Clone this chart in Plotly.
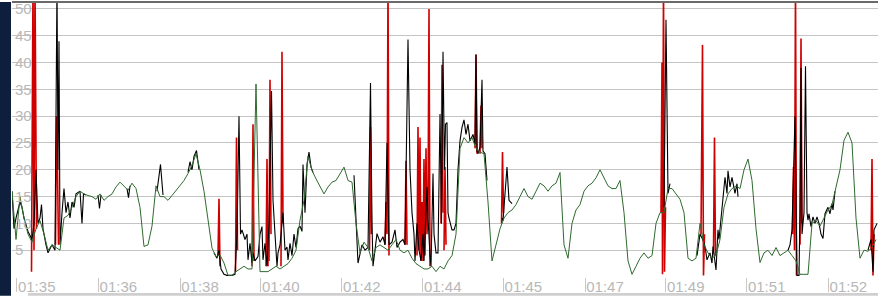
import plotly.graph_objects as go

# ---- data -------------------------------------------------------------
# green series: one reading every 4 time units (t = 0, 4, 8, ...)
green_vals = [
    16, 7, 15, 11, 8, 6.5, 9, 10.5, 8, 5, 6, 5.5, 5, 11, 11.5, 13, 15, 16, 15.5, 15.2,
    15, 14.5, 15.5, 14.3, 15, 15.5, 16.8, 17.7, 17, 16.2, 17.5, 16.5, 13, 5.7, 6, 9.5, 17, 15, 15, 14.3,
    15.2, 16.2, 17.1, 18, 19.3, 20.8, 23, 20, 16, 11, 5.4, 3.8, 4.1, 2.6, 0.3, 0.3, 1, 1.5, 2, 1.5,
    1.5, 36, 1, 1, 1, 1.5, 2, 1.5, 2, 2.5, 3.5, 5, 10.6, 14.3, 22.5, 19.9, 18.3, 16.8, 15.5, 16.8,
    17.7, 18, 19.3, 20.5, 18, 17.7, 10, 4.5, 6.5, 5.5, 3, 5.5, 6, 5.5, 5, 6, 7, 5, 4.5, 5,
    3.5, 2.5, 2, 1.5, 1.5, 2, 1, 2, 1.5, 3, 4, 8, 24, 26, 25, 26, 24, 23.3, 23, 14,
    3, 6, 9, 11, 12, 12.5, 13.5, 15, 16.5, 15, 14.5, 16, 17.5, 17, 16, 17, 17.5, 19.5, 6, 3.5,
    10, 12.5, 13.5, 16, 17, 17.5, 18.5, 20, 18.5, 17, 16.5, 16.5, 18, 12, 3, 0.5, 2, 3.5, 4.5, 3.5,
    4, 10, 12, 12, 16.5, 16.5, 15.5, 14.5, 12, 3.5, 3, 3.5, 10, 6, 4.5, 3.5, 4, 7, 13, 15.5,
    16.5, 17, 16.5, 20, 22, 18, 9, 2.7, 4.5, 5, 4, 5.5, 4, 4.5, 5, 4, 3, 0.5, 0.5, 0.5,
    10, 10.5, 9.5, 11, 12.5, 13.5, 16.5, 20, 25.5, 27, 25, 11, 3.5, 5, 4.8, 5.5, 7,
]
green_t = [4 * k for k in range(len(green_vals))]

# black series (time, value); None breaks where it runs under the green line
black_t = [
    0, 2, 4, 6, 8, 10, 12, 16, 20, 22, 24, 26, 28, 29.5, 31, 34, 36, 40, 43, 45, 46, 47, 48, 50, 52, 54,
    56, 58, 60, 62, 64, 68, 70, 71.5, 74, None,
    86, 87.5, 89, None,
    115, 116.5, 118, None,
    145, 148.5, 151, None,
    176, 178, 180, 182, 184.5, 187, None,
    202, 205, 207, 209, 212, 215, 220, 223, 225, 227, 228.5, 230, 233, 235, 236, 238, 240, 241, 243, 246,
    248, 250, 251, 253, 255, 257, 259.5, 261, 263, 265, 266, 268, 271, 273, 275, 276, 278, 280, 282, 284,
    286, 288, 290, 291, 293, 295, 297, 299, 301, None,
    342, 344, 346, 350, 353, 356, 358.5, 360, 361, 365, 368, 371, 373, 375, 377, 380, 383, 385, 388, 391,
    393, 396, 398, 400, 402, 403, 405, 407, 409, 411, 412, 415, 416, 418, 419, 421, 422, 424, 426, 428,
    429.5, 431, 432.5, 433.5, 435, 436, 437, 440, 442, 444, 446, 448, 450, 452, 454, 456, 458, 461, 463, 464,
    465, 466, 468, 470, 471, 473, 475, None,
    490, 491, 493, 495, 497, 500, None,
    652, 654, 656, 658, None,
    685, 688, 691, 693, 695, 698, 700, 701, 704, 706, 707, 709, 711, 713, 715, 716, 718, 720, 723, 725,
    726, None,
    776, 778, 780, 781.5, 783, 785, 787, 788, 789, 790, 792, 793.5, 795, 796, 797, 799, 801, 803, 805, 807,
    809, 811, 813, 816, 818, 820, 821, 823, None,
    856, 859, 861, 862, 865,
]
black_vals = [
    16, 9, 11, 12.5, 14, 13, 11, 8.5, 7, 10, 20, 10, 11, 13.5, 9, 6, 4.5, 6, 5, 55, 20, 44, 6, 12, 16.5, 12,
    14, 11, 14, 13, 15.5, 16, 10, 15.5, 15.3, None,
    15.3, 12.8, 15.3, None,
    16.5, 14.8, 17, None,
    16, 21, 15.3, None,
    19.5, 21.5, 20, 22.5, 23.6, 20, None,
    4.5, 3.5, 5, 1.5, 0.5, 0.3, 0.3, 0.5, 8, 30, 8, 8.8, 7, 8, 3.2, 6.3, 2.6, 4.5, 3, 3.8,
    8, 9.4, 3.2, 6.3, 2, 10, 34.7, 14.3, 8, 2, 4.5, 6, 12, 5, 5.6, 3.2, 6.3, 4, 8, 5.5,
    9, 9.5, 8.5, 21, 12, 21, 23.3, 20.5, 19.5, None,
    19, 12, 2.6, 6, 5, 5.5, 36.2, 10, 2, 8.1, 6.5, 7.5, 6, 25, 6, 6.5, 8.8, 5.5, 6.5, 7,
    6, 44.3, 20, 12, 8, 3, 10, 5, 3, 8, 3, 16.8, 11, 4, 2, 19.3, 8, 4.5, 4.5, 30.4,
    10, 42, 20, 28.5, 28.8, 12, 11, 8.8, 8.8, 10, 20, 25.4, 27.9, 29.3, 26.6, 28.5, 25.4, 26.6, 24.8, 41.5,
    23.5, 23, 24.2, 36.8, 23.5, 23, 18, None,
    11, 10.5, 15.5, 20.5, 14.3, 13.7, None,
    13, 48, 15.6, 17.4, None,
    4, 8, 6.9, 5.7, 3.2, 4.5, 2.6, 5.7, 1.3, 8.8, 7, 11, 14, 18.6, 15.6, 19.8, 16.8, 18.6, 15.6, 17.4,
    15, None,
    5, 6, 8.8, 20.5, 30, 0.3, 0.3, 12, 39, 8, 12, 39.3, 12, 10.6, 11.8, 9.4, 11.2, 10, 11.2, 10,
    8, 7.2, 11.8, 13, 11.8, 13.7, 12.5, 16, None,
    5, 7, 1, 8.8, 10,
]

# red spikes (time, value); None separates the spikes
red_t = [
    19.5, 21, 22, 23, 24.5, None,
    43.5, 44.5, 45.5, 46.5, None,
    206, 207, 208, None,
    223.5, 224.5, 225.5, None,
    240, 241, 242, None,
    254, 255, 256, None,
    257, 258, 259, None,
    269, 270, 271, None,
    357.5, 358.5, 359.5, None,
    373, 374, 375, 376, 377, None,
    393, 394, 395, None,
    405, 406, 407, 408, 409, 410, 411, 412, 413, 414, 415, 416, 417, 418, None,
    429, 430, 431, None,
    432, 433, 434, None,
    463, 464, 465, None,
    468, 469, 470, None,
    489.5, 490.5, 491.5, None,
    649, 650, 650.5, 651.5, 652.5, 653.5, None,
    689, 689.5, 690.5, 691.5, 692.5, None,
    701.5, 702.5, 703.5, None,
    780.5, 781.5, 782.5, 783.5, 784.5, None,
    788, 789, 790, None,
    859, 860, 861, 862,
]
red_vals = [
    1, 55, 5, 55, 9, None,
    6, 30, 20, 6, None,
    4, 14.6, 2, None,
    1, 26, 5, None,
    2, 28.5, 3, None,
    2, 22, 2, None,
    3, 36.8, 8, None,
    2, 42, 10, None,
    5, 28, 8, None,
    6, 14, 8, 55, 4, None,
    6, 21.7, 6, None,
    4, 28, 5, 26, 3, 14, 3, 22, 4, 24, 8, 12, 50, 2, None,
    10, 39.6, 12, None,
    5, 20.5, 6, None,
    24, 41.5, 23, None,
    23, 32, 24, None,
    10, 23.3, 12, None,
    12, 40, 0.5, 55, 1, 13, None,
    8, 24, 43.3, 0.3, 8, None,
    5, 26, 4, None,
    8, 20.5, 5, 55, 0.3, None,
    6, 44.5, 10, None,
    5, 22, 0.3, 8,
]

x_tick_t = [4.7, 86.3, 168, 248.7, 329.7, 410.7, 491.3, 573, 653.7, 734.7, 816.3]
x_tick_labels = ["01:35", "01:36", "01:38", "01:40", "01:42", "01:44",
                 "01:45", "01:47", "01:49", "01:51", "01:52"]
y_ticks = [5, 10, 15, 20, 25, 30, 35, 40, 45, 50]

# ---- figure -----------------------------------------------------------
fig = go.Figure()
fig.add_trace(go.Scatter(x=red_t, y=red_vals, mode="lines",
                         line=dict(color="#d00000", width=1.6), connectgaps=False,
                         hoverinfo="skip"))
fig.add_trace(go.Scatter(x=black_t, y=black_vals, mode="lines",
                         line=dict(color="#000000", width=1.1), connectgaps=False,
                         hoverinfo="skip"))
fig.add_trace(go.Scatter(x=green_t, y=green_vals, mode="lines",
                         line=dict(color="#2f6a2f", width=1), hoverinfo="skip"))

font_fam = "Liberation Sans, Arial, sans-serif"
fig.update_layout(
    width=878, height=296,
    margin=dict(l=12, r=0, t=0, b=19),
    paper_bgcolor="white", plot_bgcolor="white",
    showlegend=False,
    xaxis=dict(range=[0, 866], tickvals=x_tick_t, ticktext=x_tick_labels,
               showgrid=False, zeroline=False, showline=False,
               ticks="outside", ticklen=14, tickcolor="#c8c8c8", tickwidth=1,
               ticklabelshift=20, ticklabelstandoff=-18,
               ticklabeloverflow="allow",
               tickfont=dict(family=font_fam, size=15, color="#b8b8b8")),
    yaxis=dict(range=[0, 51.3], tickvals=y_ticks,
               showgrid=True, gridcolor="#c4c4c4", gridwidth=1,
               zeroline=False, showline=False, ticks="",
               ticklabelposition="inside", ticklabeloverflow="allow",
               tickfont=dict(family=font_fam, size=15, color="#b8b8b8")),
    shapes=[
        # dark left frame strip
        dict(type="rect", xref="paper", yref="paper", x0=-12 / 866, x1=-1 / 866,
             y0=-19 / 277, y1=1, fillcolor="#0d1f3c", line_width=0, layer="above"),
        # top border
        dict(type="line", xref="paper", yref="paper", x0=0, x1=1, y0=1, y1=1,
             line=dict(color="#6a6a6a", width=2), layer="above"),
        # bottom grey bar
        dict(type="rect", xref="paper", yref="paper", x0=16 / 866, x1=1,
             y0=-19 / 277, y1=-16 / 277, fillcolor="#cfcfcf", line_width=0),
    ],
)

fig.write_html("out.html")
